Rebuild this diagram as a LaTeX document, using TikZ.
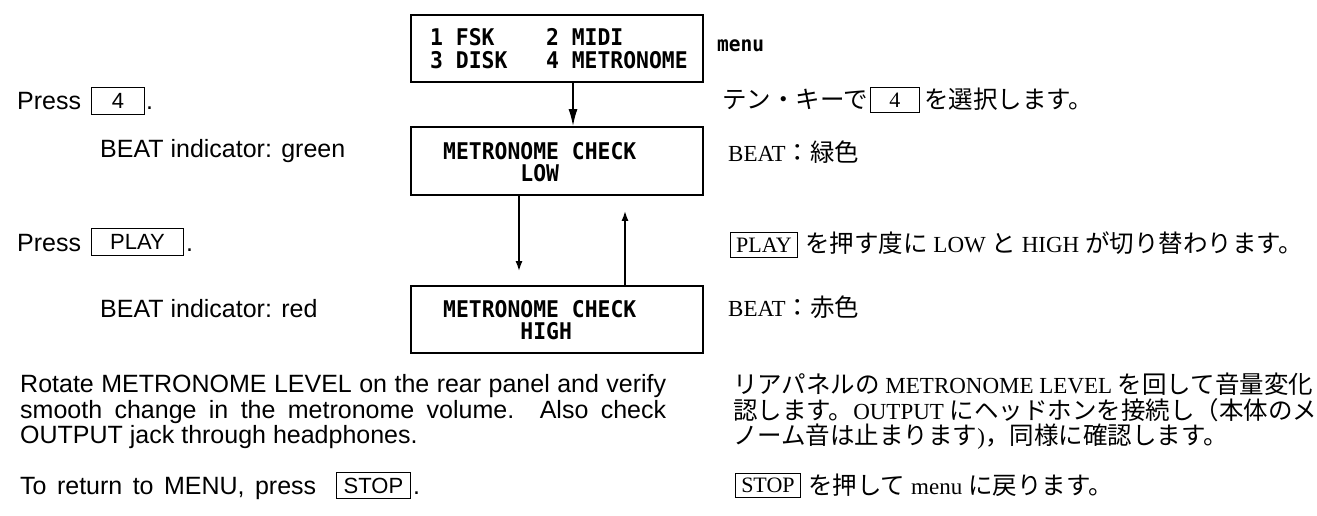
\documentclass[tikz,border=0pt]{standalone}
\usepackage{fontspec}
\usetikzlibrary{arrows.meta}
\setmainfont{Liberation Sans}
\newfontfamily\lcd{DejaVu Sans Mono}[FakeStretch=0.93]
\newfontfamily\jpf{Noto Sans CJK JP}
\newfontfamily\jrm{Liberation Serif}
\newcommand\jr[1]{{\jrm\fontsize{23}{23}\selectfont #1}}
\begin{document}
\begin{tikzpicture}[x=1pt,y=-1pt,
  lcdbox/.style={draw, line width=1.8pt, inner sep=0pt, minimum width=292pt},
  lcdtxt/.style={font=\lcd\bfseries\fontsize{23}{23}\selectfont, anchor=base west, inner sep=0pt},
  en/.style={font=\fontsize{25}{25}\selectfont, anchor=base west, inner sep=0pt},
  ekey/.style={draw, line width=0.9pt, inner sep=0pt, anchor=north west, font=\fontsize{22}{22}\selectfont},
  jkey/.style={draw, line width=0.9pt, inner sep=0pt, anchor=north west, font=\jrm\fontsize{22}{22}\selectfont},
  jp/.style={font=\jpf\fontsize{24.5}{24.5}\selectfont, anchor=base west, inner sep=0pt},
  bigarrow/.style={-{Latex[length=17pt,width=9pt]}, line width=1.6pt},
  smallarrow/.style={-{Latex[length=10pt,width=7pt]}, line width=1.6pt}]
\fill[white] (0,0) rectangle (1317,515);
\useasboundingbox (0,0) rectangle (1317,515);

% LCD boxes
\node[lcdbox, minimum height=67pt] (menu) at (557,48.5) {};
\node[lcdbox, minimum height=68pt] (low) at (557,161) {};
\node[lcdbox, minimum height=67pt] (high) at (557,319.5) {};

\node[lcdtxt] (m1) at (430,45) {1 FSK\phantom{0000}2 MIDI};
\node[lcdtxt] (m2) at (430,68) {3 DISK\phantom{000}4 METRONOME};
\node[lcdtxt] (l1) at (443,159) {METRONOME CHECK};
\node[lcdtxt] (l2) at (443,181) {\phantom{000000}LOW};
\node[lcdtxt] (h1) at (443,317) {METRONOME CHECK};
\node[lcdtxt] (h2) at (443,339) {\phantom{000000}HIGH};
\node[lcdtxt, font=\lcd\bfseries\fontsize{21}{21}\selectfont] (menulbl) at (717,51) {menu};

% arrows
\draw[bigarrow] ([xshift=16pt]menu.south) -- ([xshift=16pt]low.north);
\draw[smallarrow] ([xshift=-38pt]low.south) -- ([xshift=-38pt,yshift=14pt]high.north);
\draw[smallarrow] ([xshift=68pt]high.north) -- ([xshift=68pt,yshift=-15pt]low.south);

% English column
\node[en] (press4) at (17,109) {Press};
\node[ekey, minimum width=53pt, minimum height=27pt] (key4) at (91,87) {4};
\node[en] (dot4) at (146,109) {.};
\node[en] (beatg) at (100,157) {BEAT indicator: green};
\node[en] (pressp) at (17,251) {Press};
\node[ekey, minimum width=92pt, minimum height=27pt] (keyplay) at (91,228) {PLAY};
\node[en] (dotp) at (186,251) {.};
\node[en] (beatr) at (100,317) {BEAT indicator: red};
\node[en] (par1) at (20,392) {\makebox[646pt][s]{Rotate METRONOME LEVEL on the rear panel and verify}};
\node[en] (par2) at (20,418) {\makebox[646pt][s]{smooth change in the metronome volume. Also check}};
\node[en] (par3) at (20,443) {OUTPUT jack through headphones.};
\node[en] (ret) at (20,494) {\makebox[296pt][s]{To return to MENU, press}};
\node[ekey, minimum width=74pt, minimum height=26pt] (keystop) at (336,472) {STOP};
\node[en] (dots) at (413,494) {.};

% Japanese column
\node[jp] (jsel1) at (722,108) {テン・キーで};
\node[jkey, minimum width=49pt, minimum height=25pt] (jkey4) at (870,87) {4};
\node[jp] (jsel2) at (924,108) {を選択します。};
\node[jp] (jbeatg) at (728,161) {\jr{BEAT}：緑色};
\node[jkey, minimum width=67pt, minimum height=25pt] (jkeyplay) at (730,232) {PLAY};
\node[jp] (jplay) at (805,252) {を押す度に\jr{~LOW~}と\jr{~HIGH~}が切り替わります。};
\node[jp] (jbeatr) at (728,316) {\jr{BEAT}：赤色};
\node[jp] (jp1) at (733,393) {リアパネルの\jr{~METRONOME LEVEL~}を回して音量変化};
\node[jp] (jp2) at (733,419) {認します。\jr{OUTPUT~}にヘッドホンを接続し（本体のメ};
\node[jp] (jp3) at (733,444) {ノーム音は止まります\jr{)}，同様に確認します。};
\node[jkey, minimum width=65pt, minimum height=24pt] (jkeystop) at (735,473) {STOP};
\node[jp] (jstop) at (808,494) {を押して\jr{~menu~}に戻ります。};
\end{tikzpicture}
\end{document}
